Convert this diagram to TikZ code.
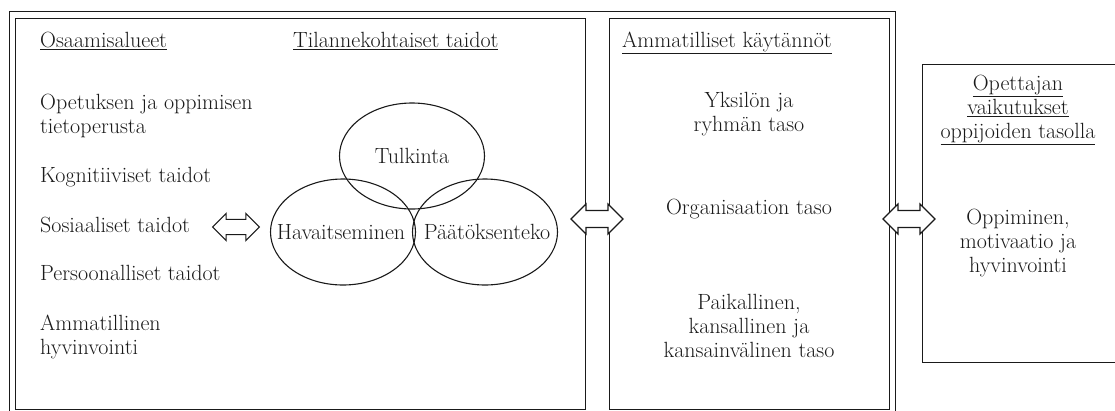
\documentclass[tikz,border=0pt]{standalone}
\usetikzlibrary{shapes.geometric}
\definecolor{ink}{HTML}{1A1A1A}
\begin{document}
\begin{tikzpicture}[x=1pt,y=-1pt,
  line/.style={draw=ink, line width=1.1pt},
  boxnode/.style={line, rectangle, anchor=north west, inner sep=0pt},
  txt/.style={inner sep=0pt, text=ink, font=\fontsize{22}{24}\selectfont},
  lt/.style={txt, align=left, anchor=north west},
  ct/.style={txt, align=center, anchor=north},
  circ/.style={line, ellipse, minimum width=145pt, minimum height=106pt, inner sep=0pt},
  dblarrow/.pic={\draw[line, fill=white] (-26,0) -- (-11,15) -- (-11,8.5) -- (11,8.5) -- (11,15) -- (26,0) -- (11,-15) -- (11,-8.5) -- (-11,-8.5) -- (-11,-15) -- cycle;}
]
\useasboundingbox (0,0) rectangle (1115,410);
\fill[white] (0,0) rectangle (1115,410);
% frames
\node[boxnode, minimum width=886pt, minimum height=406pt] (frame) at (9,11) {};
\node[boxnode, minimum width=570pt, minimum height=391pt] (leftbox) at (15,18) {};
\node[boxnode, minimum width=280pt, minimum height=391pt] (midbox) at (609,18) {};
\node[boxnode, minimum width=196pt, minimum height=298pt] (rightbox) at (922,64) {};
% headings
\node[lt] (h1) at (40,32) {\underline{Osaamisalueet}};
\node[lt] (h2) at (293,32) {\underline{Tilannekohtaiset taidot}};
\node[lt] (h3) at (622,32) {\underline{Ammatilliset käytännöt}};
% left list
\node[lt] (l1) at (40,94) {Opetuksen ja oppimisen\\tietoperusta};
\node[lt] (l2) at (40,167) {Kognitiiviset taidot};
\node[lt] (l3) at (40,217) {Sosiaaliset taidot};
\node[lt] (l4) at (40,265) {Persoonalliset taidot};
\node[lt] (l5) at (40,315) {Ammatillinen\\hyvinvointi};
% ellipses
\node[circ] (tulk) at (412,156) {};
\node[circ] (hav) at (343,232) {};
\node[circ] (paat) at (485,232) {};
\node[txt] at (tulk.center) {Tulkinta};
\node[txt] at ([xshift=-2pt]hav.center) {Havaitseminen};
\node[txt] at ([xshift=2pt]paat.center) {Päätöksenteko};
% middle
\node[ct] (m1) at (749,92) {Yksilön ja\\ryhmän taso};
\node[ct] (m2) at (749,199) {Organisaation taso};
\node[ct] (m3) at (749,294) {Paikallinen,\\kansallinen ja\\kansainvälinen taso};
% right
\node[ct] (r1) at (1018,75) {\underline{Opettajan}\\\underline{vaikutukset}\\\underline{oppijoiden tasolla}};
\node[ct] (r2) at (1018,209) {Oppiminen,\\motivaatio ja\\hyvinvointi};
% double arrows
\pic[scale=0.9] at (236,227) {dblarrow};
\pic at (597,219) {dblarrow};
\pic at (909,219) {dblarrow};
\end{tikzpicture}
\end{document}
